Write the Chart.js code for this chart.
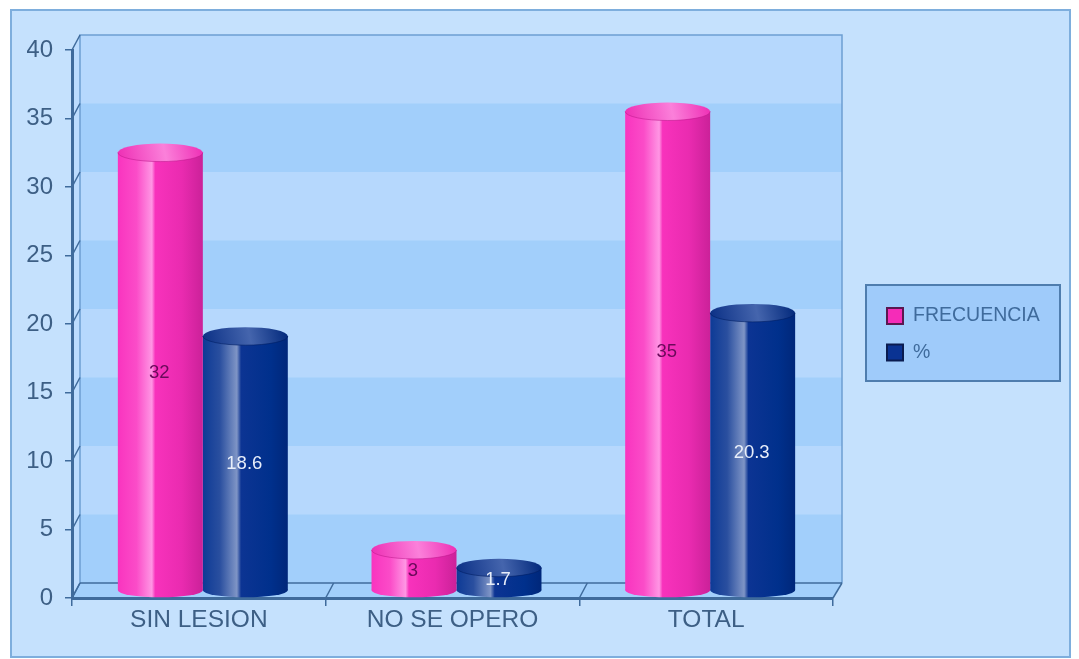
<!DOCTYPE html>
<html>
<head>
<meta charset="utf-8">
<title>Frecuencia</title>
<script src="https://cdn.jsdelivr.net/npm/chart.js@4"></script>
<style>
    html, body { margin: 0; padding: 0; background: #ffffff; overflow: hidden; }
    canvas { display: block; }
</style>
</head>
<body>
<canvas id="lesionChart" width="1079" height="659"></canvas>
<script>
const categories = ['SIN LESION', 'NO SE OPERO', 'TOTAL'];
const frecuencia = [32, 3, 35];
const porcentaje = [18.6, 1.7, 20.3];

const FONT = '"Liberation Sans", Arial, sans-serif';
const TEXT_COLOR = '#3d5f85';
const AXIS_COLOR = '#3f6b9c';
const DEPTH_X = 8;    // depth of the fake 3D box
const DEPTH_Y = 15;
const BAR_SHIFT_X = 4;  // cylinders stand in the middle of the floor
const BAR_SHIFT_Y = -7;

// stops across the cylinder, left to right
function barGradient(ctx, left, right, stops) {
    const g = ctx.createLinearGradient(left, 0, right, 0);
    stops.forEach(s => g.addColorStop(s[0], s[1]));
    return g;
}
const pinkStops = [[0, '#f934bf'], [0.22, '#fb4cc8'], [0.4, '#ff96e4'], [0.44, '#f832bc'], [0.75, '#ea2bb0'], [1, '#cb2199']];
const blueStops = [[0, '#0d3a96'], [0.2, '#2a4f9f'], [0.4, '#7f95c6'], [0.45, '#0c3493'], [0.8, '#00308c'], [1, '#00277a']];

function barFill(context) {
    const stops = context.datasetIndex === 0 ? pinkStops : blueStops;
    const chart = context.chart;
    // first pass runs before the layout, no chart area yet
    if (context.dataIndex === undefined || !chart.chartArea) return stops[3][1];
    const center = chart.scales.x.getPixelForValue(context.dataIndex);
    const width = (chart.chartArea.right - chart.chartArea.left) / categories.length * 0.335;
    const left = center + (context.datasetIndex - 1) * width;
    return barGradient(chart.ctx, left, left + width, stops);
}

// walls and floor behind the bars, legend box on the right
const boxPlugin = {
    id: 'box3d',
    beforeDraw(chart) {
        const c = chart.ctx;
        const a = chart.chartArea;
        const y = chart.scales.y;
        const x = chart.scales.x;
        c.save();
        c.fillStyle = '#ffffff';
        c.fillRect(0, 0, chart.width, chart.height);
        c.fillStyle = '#c5e1fd';
        c.strokeStyle = '#7eaedd';
        c.lineWidth = 2;
        c.fillRect(11, 10, 1059, 647);
        c.strokeRect(11, 10, 1059, 647);

        // back wall with bands
        const wallL = a.left + DEPTH_X, wallR = a.right + DEPTH_X + 1;
        const wallT = a.top - DEPTH_Y, wallB = a.bottom - DEPTH_Y;
        c.fillStyle = '#b6d8fd';
        c.fillRect(wallL, wallT, wallR - wallL, wallB - wallT);
        c.fillStyle = '#a2cffb';
        for (let v = 0; v < 40; v += 10) {
            const top = y.getPixelForValue(v + 5) - DEPTH_Y;
            const bottom = y.getPixelForValue(v) - DEPTH_Y;
            c.fillRect(wallL, top, wallR - wallL, bottom - top);
        }

        // left wall and floor
        c.fillStyle = '#bcdcfe';
        c.beginPath();
        c.moveTo(a.left, a.top);
        c.lineTo(wallL, wallT);
        c.lineTo(wallL, wallB);
        c.lineTo(a.left, a.bottom);
        c.closePath();
        c.fill();
        c.fillStyle = '#a2cffb';
        c.beginPath();
        c.moveTo(a.left, a.bottom);
        c.lineTo(wallL, wallB);
        c.lineTo(wallR, wallB);
        c.lineTo(a.right, a.bottom);
        c.closePath();
        c.fill();

        // outlines
        c.strokeStyle = '#6d9fd2';
        c.lineWidth = 1.5;
        c.beginPath();
        c.moveTo(wallL, wallB);
        c.lineTo(wallL, wallT);
        c.lineTo(wallR, wallT);
        c.lineTo(wallR, wallB);
        c.stroke();
        c.strokeStyle = AXIS_COLOR;
        c.beginPath();
        c.moveTo(wallL, wallB);
        c.lineTo(wallR, wallB);
        c.stroke();

        // slanted ticks going back from the axes
        y.ticks.forEach(t => {
            const py = y.getPixelForValue(t.value);
            c.beginPath();
            c.moveTo(a.left, py);
            c.lineTo(wallL, py - DEPTH_Y);
            c.stroke();
        });
        x.getTicks().forEach((t, i) => {
            const px = a.left + (a.right - a.left) * i / categories.length;
            c.beginPath();
            c.moveTo(px, a.bottom);
            c.lineTo(px + DEPTH_X, wallB);
            c.stroke();
        });
        c.beginPath();
        c.moveTo(a.right, a.bottom);
        c.lineTo(wallR, wallB);
        c.stroke();
        c.restore();
    },
    beforeDatasetsDraw(chart) {
        chart.ctx.save();
        chart.ctx.translate(BAR_SHIFT_X, BAR_SHIFT_Y);
        // round bottoms first, the bars cover their upper half
        chart.data.datasets.forEach((ds, i) => {
            chart.getDatasetMeta(i).data.forEach(el => {
                const left = el.x - el.width / 2;
                chart.ctx.fillStyle = barGradient(chart.ctx, left, left + el.width, i === 0 ? pinkStops : blueStops);
                chart.ctx.beginPath();
                chart.ctx.ellipse(el.x, el.base, el.width / 2, 7, 0, 0, Math.PI * 2);
                chart.ctx.fill();
            });
        });
    },
    afterDatasetsDraw(chart) {
        const c = chart.ctx;
        // top caps and value labels
        chart.data.datasets.forEach((ds, i) => {
            chart.getDatasetMeta(i).data.forEach((el, n) => {
                const left = el.x - el.width / 2;
                // the light on the cap runs slightly diagonal
                const cap = c.createLinearGradient(left, el.y + 9, left + el.width, el.y - 9);
                if (i === 0) {
                    cap.addColorStop(0, '#ee2db4');
                    cap.addColorStop(0.55, '#fb80da');
                    cap.addColorStop(1, '#ee2db4');
                } else {
                    cap.addColorStop(0, '#0a2f85');
                    cap.addColorStop(0.55, '#4565ad');
                    cap.addColorStop(1, '#00277a');
                }
                c.fillStyle = cap;
                c.beginPath();
                c.ellipse(el.x, el.y, el.width / 2, 9, 0, 0, Math.PI * 2);
                c.fill();
                // darker rim on the front of the cap
                c.strokeStyle = i === 0 ? 'rgba(190,25,140,0.55)' : 'rgba(0,30,100,0.6)';
                c.lineWidth = 1;
                c.beginPath();
                c.ellipse(el.x, el.y, el.width / 2, 9, 0, 0, Math.PI);
                c.stroke();

                c.font = '18.5px ' + FONT;
                c.textAlign = 'center';
                c.textBaseline = 'middle';
                c.fillStyle = i === 0 ? '#6a0a5a' : '#e8eefa';
                c.fillText(ds.data[n], el.x - 1, (el.y + el.base) / 2 + 1);
            });
        });
        c.restore();

        // legend
        c.save();
        c.fillStyle = '#9fcbfa';
        c.strokeStyle = '#4f7dae';
        c.lineWidth = 2;
        c.fillRect(866, 285, 194, 96);
        c.strokeRect(866, 285, 194, 96);
        c.font = '19.5px ' + FONT;
        c.textBaseline = 'middle';
        c.textAlign = 'left';
        chart.data.datasets.forEach((ds, i) => {
            const rowY = 316 + i * 36.5;
            c.fillStyle = ds.swatch;
            c.strokeStyle = ds.swatchBorder;
            c.fillRect(887, rowY - 8, 16, 16);
            c.strokeRect(887, rowY - 8, 16, 16);
            c.fillStyle = '#3f6b9c';
            c.fillText(ds.label, 913, rowY);
        });
        c.restore();
    }
};

document.addEventListener('DOMContentLoaded', function () {
    const ctx = document.getElementById('lesionChart').getContext('2d');
    new Chart(ctx, {
        type: 'bar',
        data: {
            labels: categories,
            datasets: [
                { label: 'FRECUENCIA', data: frecuencia, backgroundColor: barFill, swatch: '#f52cb8', swatchBorder: '#5a1850', clip: false },
                { label: '%', data: porcentaje, backgroundColor: barFill, swatch: '#0a3393', swatchBorder: '#0a1c50', clip: false }
            ]
        },
        options: {
            responsive: false,
            animation: false,
            datasets: { bar: { categoryPercentage: 0.67, barPercentage: 1 } },
            layout: { padding: { left: 27, right: 246, top: 50, bottom: 21 } },
            plugins: { legend: { display: false }, tooltip: { enabled: false } },
            scales: {
                x: {
                    afterFit(scale) { scale.height = 40; },
                    grid: { drawOnChartArea: false, color: AXIS_COLOR, tickLength: 8, lineWidth: 1.5 },
                    border: { color: AXIS_COLOR, width: 3 },
                    ticks: { color: TEXT_COLOR, font: { family: FONT, size: 24.5 }, padding: 0, maxRotation: 0 }
                },
                y: {
                    min: 0,
                    max: 40,
                    afterFit(scale) { scale.width = 45; },
                    grid: { drawOnChartArea: false, color: AXIS_COLOR, tickLength: 7, lineWidth: 1.5 },
                    border: { color: AXIS_COLOR, width: 3 },
                    ticks: { stepSize: 5, color: TEXT_COLOR, font: { family: FONT, size: 24 }, padding: 12 }
                }
            }
        },
        plugins: [boxPlugin]
    });
});
</script>
</body>
</html>
